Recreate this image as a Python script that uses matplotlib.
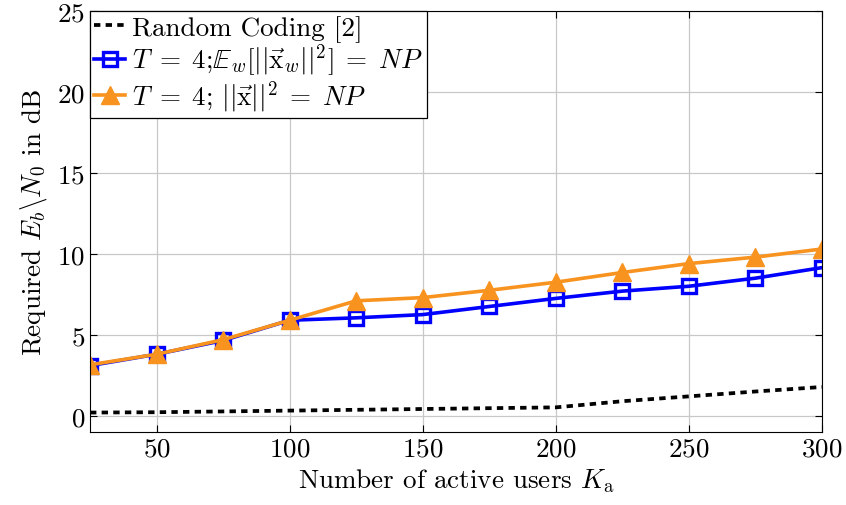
import numpy as np
import matplotlib.pyplot as plt

plt.rcParams['font.family'] = 'cmr10'
plt.rcParams['mathtext.fontset'] = 'cm'
plt.rcParams['axes.unicode_minus'] = False
plt.rcParams['axes.formatter.use_mathtext'] = True

# --- data ---
users = [25, 50, 75, 100, 125, 150, 175, 200, 225, 250, 275, 300]
random_coding = [0.2, 0.22, 0.27, 0.32, 0.37, 0.42, 0.47, 0.52, 0.9, 1.2, 1.5, 1.78]
avg_power = [3.1, 3.8, 4.65, 5.9, 6.05, 6.25, 6.75, 7.25, 7.7, 8.0, 8.5, 9.15]
max_power = [3.15, 3.8, 4.7, 5.9, 7.1, 7.3, 7.75, 8.25, 8.85, 9.4, 9.8, 10.3]

fs = 19.5

fig = plt.figure(figsize=(8.46, 5.06), dpi=100)
ax = fig.add_axes([0.1064, 0.1443, 0.8652, 0.832])

ax.plot(users, random_coding, color='black', lw=2.7, dashes=(1.7, 1.4),
        label='Random Coding [2]')
ax.plot(users, avg_power, color='#0000ff', lw=2.6, marker='s', ms=10,
        mfc='none', mew=2.4,
        label=r'$T\;=\;4$;$\mathbb{E}_w[||\vec{\mathrm{x}}_w||^2]\;=\;NP$')
ax.plot(users, max_power, color='#f7931e', lw=2.6, marker='^', ms=12.5,
        label=r'$T\;=\;4$; $||\vec{\mathrm{x}}||^2\;=\;NP$')

ax.set_xlim(25, 300)
ax.set_ylim(-1, 25)
ax.set_xticks([50, 100, 150, 200, 250, 300])
ax.set_yticks([0, 5, 10, 15, 20, 25])
ax.grid(True, color='#c8c8c8', lw=0.9)
ax.tick_params(direction='in', top=True, right=True, labelsize=fs, length=5)
ax.set_xlabel(r'Number of active users $K_\mathrm{a}$', fontsize=fs, labelpad=4)
ax.set_ylabel(r'Required $E_b\backslash N_0$ in dB', fontsize=fs, labelpad=6)

leg = ax.legend(loc='upper left', fontsize=fs, fancybox=False, framealpha=1,
                edgecolor='black', borderaxespad=0, handlelength=1.15,
                handletextpad=0.25, borderpad=0.15, labelspacing=0.0)
leg.get_frame().set_linewidth(0.9)

fig.savefig('out.png', dpi=100)
